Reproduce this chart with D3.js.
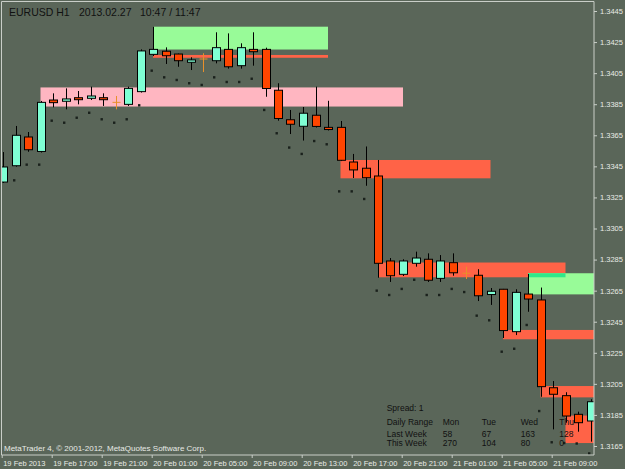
<!DOCTYPE html>
<html>
<head>
<meta charset="utf-8">
<script src="https://cdn.jsdelivr.net/npm/d3@7/dist/d3.min.js"></script>
<style>
  body { margin: 0; background: #5a6659; }
  svg { display: block; }
</style>
</head>
<body>
<div id="chart"></div>
<script>
// EURUSD H1, one bar per hour from 19 Feb 2013 13:00
var opens  = [1.33349, 1.33454, 1.33639, 1.33546, 1.33877, 1.33869, 1.33892, 1.33888, 1.33892, 1.33862,
              1.33849, 1.33931, 1.34171, 1.34191, 1.34173, 1.34120, 1.34141, 1.34130, 1.34203, 1.34098,
              1.34203, 1.34203, 1.33940, 1.33750, 1.33708, 1.33779, 1.33701, 1.33701, 1.33478, 1.33438,
              1.33388, 1.32841, 1.32755, 1.32826, 1.32852, 1.32729, 1.32830, 1.32762, 1.32749, 1.32625,
              1.32659, 1.32386, 1.32628, 1.32590, 1.32025, 1.31974, 1.31854, 1.31811];
var highs  = [1.33542, 1.33710, 1.33671, 1.33871, 1.33920, 1.33952, 1.33935, 1.33963, 1.33920, 1.33903,
              1.33963, 1.34203, 1.34349, 1.34216, 1.34176, 1.34152, 1.34178, 1.34313, 1.34306, 1.34242,
              1.34313, 1.34214, 1.33985, 1.33813, 1.33832, 1.33963, 1.33872, 1.33742, 1.33530, 1.33578,
              1.33491, 1.32860, 1.32852, 1.32901, 1.32890, 1.32879, 1.32890, 1.32804, 1.32788, 1.32667,
              1.32661, 1.32659, 1.32757, 1.32670, 1.32068, 1.31996, 1.31871, 1.31951];
var lows   = [1.33343, 1.33448, 1.33544, 1.33539, 1.33830, 1.33817, 1.33849, 1.33877, 1.33839, 1.33817,
              1.33839, 1.33925, 1.34160, 1.34109, 1.34091, 1.34070, 1.34057, 1.34113, 1.34079, 1.34079,
              1.34098, 1.33898, 1.33744, 1.33658, 1.33616, 1.33700, 1.33681, 1.33484, 1.33375, 1.33325,
              1.32733, 1.32706, 1.32744, 1.32804, 1.32706, 1.32706, 1.32746, 1.32725, 1.32583, 1.32558,
              1.32345, 1.32364, 1.32514, 1.31967, 1.31757, 1.31800, 1.31742, 1.31678];
var closes = [1.33446, 1.33650, 1.33557, 1.33862, 1.33860, 1.33884, 1.33879, 1.33903, 1.33879, 1.33862,
              1.33952, 1.34193, 1.34203, 1.34162, 1.34130, 1.34135, 1.34141, 1.34214, 1.34091, 1.34214,
              1.34188, 1.33951, 1.33758, 1.33721, 1.33792, 1.33707, 1.33687, 1.33489, 1.33427, 1.33377,
              1.32826, 1.32746, 1.32841, 1.32860, 1.32717, 1.32841, 1.32765, 1.32762, 1.32617, 1.32646,
              1.32393, 1.32639, 1.32596, 1.32032, 1.31983, 1.31843, 1.31800, 1.31935];
// indicator dots under the bars
var marks  = [null, 1.33360, 1.33461, 1.33461, 1.33744, 1.33731, 1.33763, 1.33795, 1.33753, 1.33731,
              1.33753, 1.33843, 1.34066, 1.34023, 1.34006, 1.33985, 1.33974, 1.34023, 1.33993, 1.33993,
              1.34014, 1.33813, 1.33663, 1.33571, 1.33530, 1.33613, 1.33592, 1.33289, 1.33289, 1.33240,
              1.32650, 1.32622, 1.32661, 1.32720, 1.32622, 1.32622, 1.32661, 1.32641, 1.32489, 1.32459,
              1.32257, 1.32276, 1.32429, 1.31875, 1.31674, 1.31669, 1.31666, 1.31602];

// zones (bar index from/to, null = runs to the right edge)
var zoneFrom   = [3, 12, 12, 27, 30, 42, 40, 43, 45];
var zoneTo     = [32, 26, 26, 39, 45, null, null, null, null];
var zoneTop    = [1.33958, 1.34349, 1.34167, 1.33491, 1.32831, 1.32762, 1.32397, 1.32036, 1.31846];
var zoneBottom = [1.33835, 1.34202, 1.34149, 1.33373, 1.32736, 1.32626, 1.32337, 1.31963, 1.31669];
var zoneColor  = ["#ffb6c1", "#98fb98", "#ff6347", "#ff6347", "#ff6347", "#98fb98", "#ff6347", "#ff6347", "#ff6347"];

var yTicks = [1.3165, 1.3185, 1.3205, 1.3225, 1.3245, 1.3265, 1.3285, 1.3305,
              1.3325, 1.3345, 1.3365, 1.3385, 1.3405, 1.3425, 1.3445];
var tickLabels = ["19 Feb 2013", "19 Feb 17:00", "19 Feb 21:00", "20 Feb 01:00", "20 Feb 05:00", "20 Feb 09:00",
                  "20 Feb 13:00", "20 Feb 17:00", "20 Feb 21:00", "21 Feb 01:00", "21 Feb 05:00", "21 Feb 09:00"];

var rangeDays = ["Mon", "Tue", "Wed", "Thu"];
var lastWeek = [58, 67, 163, 128];
var thisWeek = [270, 104, 80, 0];

var svgWidth = 625, svgHeight = 469;
var plotRight = 594, plotBottom = 455;

var t0 = new Date(2013, 1, 19, 13);
var times = d3.range(opens.length).map(i => d3.timeHour.offset(t0, i));
var tickTimes = times.filter((d, i) => i % 4 == 0);

var bars = times.map((t, i) => ({ t: t, o: opens[i], h: highs[i], l: lows[i], c: closes[i], m: marks[i] }));

var x = d3.scaleTime()
  .domain([times[0], times[times.length - 1]])
  .range([3, 590.5]);
var y = d3.scaleLinear()
  .domain([1.3165, 1.3445])
  .range([446, 11]);

var svg = d3.select("#chart").append("svg")
  .attr("width", svgWidth)
  .attr("height", svgHeight);

svg.append("rect").attr("width", svgWidth).attr("height", svgHeight).attr("fill", "#5a6659");

svg.append("clipPath").attr("id", "plot")
  .append("rect").attr("x", 1.5).attr("y", 1.5).attr("width", plotRight - 1.5).attr("height", plotBottom - 1.5);

var plot = svg.append("g").attr("clip-path", "url(#plot)");

// zones
var zones = zoneFrom.map((f, i) => ({
  x0: x(times[f]),
  x1: zoneTo[i] == null ? plotRight : x(times[zoneTo[i]]),
  y0: y(zoneTop[i]),
  y1: y(zoneBottom[i]),
  color: zoneColor[i]
}));
plot.selectAll(".zone")
  .data(zones)
  .enter().append("rect")
  .attr("x", d => d.x0)
  .attr("y", d => d.y0)
  .attr("width", d => d.x1 - d.x0)
  .attr("height", d => d.y1 - d.y0)
  .attr("fill", d => d.color);

// where a red and a green zone overlap MT4 mixes the colours
var overlaps = [];
zones.forEach(a => zones.forEach(b => {
  if (a.color == "#ff6347" && b.color == "#98fb98") {
    var ox0 = Math.max(a.x0, b.x0), ox1 = Math.min(a.x1, b.x1);
    var oy0 = Math.max(a.y0, b.y0), oy1 = Math.min(a.y1, b.y1);
    if (ox1 > ox0 && oy1 > oy0) overlaps.push({ x0: ox0, x1: ox1, y0: oy0, y1: oy1 });
  }
}));
plot.selectAll(".overlap")
  .data(overlaps)
  .enter().append("rect")
  .attr("x", d => d.x0)
  .attr("y", d => d.y0)
  .attr("width", d => d.x1 - d.x0)
  .attr("height", d => d.y1 - d.y0)
  .attr("fill", "#30e88a");

// dots
plot.selectAll(".mark")
  .data(bars.filter(d => d.m != null))
  .enter().append("rect")
  .attr("x", d => x(d.t) - 2.5)
  .attr("y", d => y(d.m) - 1.2)
  .attr("width", 2.4)
  .attr("height", 2.4)
  .attr("fill", "#1a211c");

var candles = bars.filter(d => d.o != d.c);
var dojis = bars.filter(d => d.o == d.c);

plot.selectAll(".wick")
  .data(candles)
  .enter().append("line")
  .attr("x1", d => Math.round(x(d.t)) + 0.5)
  .attr("x2", d => Math.round(x(d.t)) + 0.5)
  .attr("y1", d => y(d.h))
  .attr("y2", d => y(d.l))
  .attr("stroke", "#000")
  .attr("stroke-width", 1);

plot.selectAll(".body")
  .data(candles)
  .enter().append("rect")
  .attr("x", d => Math.round(x(d.t)) - 3.5)
  .attr("y", d => y(Math.max(d.o, d.c)))
  .attr("width", 8)
  .attr("height", d => Math.max(1, y(Math.min(d.o, d.c)) - y(Math.max(d.o, d.c))))
  .attr("fill", d => d.c > d.o ? "#7fffd4" : "#ff4500")
  .attr("stroke", "#000")
  .attr("stroke-width", 1);

var doji = plot.selectAll(".doji")
  .data(dojis)
  .enter().append("g");
doji.append("line")
  .attr("x1", d => Math.round(x(d.t)) + 0.5)
  .attr("x2", d => Math.round(x(d.t)) + 0.5)
  .attr("y1", d => y(d.h))
  .attr("y2", d => y(d.l))
  .attr("stroke", "#e8902a");
doji.append("line")
  .attr("x1", d => Math.round(x(d.t)) - 3.5)
  .attr("x2", d => Math.round(x(d.t)) + 4.5)
  .attr("y1", d => y(d.c))
  .attr("y2", d => y(d.c))
  .attr("stroke", "#e8902a");

// frame
svg.append("path")
  .attr("d", `M1.5,${plotBottom}V1.5H${plotRight}V${plotBottom}Z`)
  .attr("fill", "none")
  .attr("stroke", "#c9cec8")
  .attr("stroke-width", 1);

// axes
var rightAxis = d3.axisRight(y)
  .tickValues(yTicks)
  .tickFormat(d3.format(".4f"))
  .tickSize(3)
  .tickPadding(3);
var yAxisG = svg.append("g")
  .attr("transform", `translate(${plotRight}, 0)`)
  .call(rightAxis);

var bottomAxis = d3.axisBottom(x)
  .tickValues(tickTimes)
  .tickFormat((d, i) => tickLabels[i])
  .tickSize(3)
  .tickPadding(2.5);
var xAxisG = svg.append("g")
  .attr("transform", `translate(-1.3, ${plotBottom})`)
  .call(bottomAxis);
xAxisG.selectAll("text").attr("text-anchor", "start").attr("x", 1);

[yAxisG, xAxisG].forEach(g => {
  g.select(".domain").remove();
  g.selectAll("line").attr("stroke", "#c9cec8");
  g.selectAll("text")
    .attr("fill", "#e8ebe6")
    .style("font-family", "'Liberation Sans', Arial, sans-serif")
    .style("font-size", "7.5px");
});

// title
var title = svg.append("g")
  .style("font-family", "'Liberation Sans', Arial, sans-serif")
  .style("font-size", "10.5px")
  .attr("fill", "#111");
title.append("text").attr("x", 9).attr("y", 16).text("EURUSD H1");
title.append("text").attr("x", 79).attr("y", 16).text("2013.02.27");
title.append("text").attr("x", 140).attr("y", 16).text("10:47 / 11:47");

svg.append("text")
  .attr("x", 4).attr("y", 450.5)
  .attr("fill", "#e8ebe6")
  .style("font-family", "'Liberation Sans', Arial, sans-serif")
  .style("font-size", "8px")
  .text("MetaTrader 4, © 2001-2012, MetaQuotes Software Corp.");

// spread / daily range table
var table = svg.append("g")
  .style("font-family", "'Liberation Sans', Arial, sans-serif")
  .style("font-size", "8.5px")
  .attr("fill", "#111");
var colX = [442.7, 481.7, 520.7, 559.3];
table.append("text").attr("x", 386.7).attr("y", 410.5).text("Spread: 1");
table.append("text").attr("x", 386.7).attr("y", 425).text("Daily Range");
table.append("text").attr("x", 386.7).attr("y", 436.5).text("Last Week");
table.append("text").attr("x", 386.7).attr("y", 445.5).text("This Week");
rangeDays.forEach((d, i) => {
  table.append("text").attr("x", colX[i]).attr("y", 425).text(d);
  table.append("text").attr("x", colX[i]).attr("y", 436.5).text(lastWeek[i]);
  table.append("text").attr("x", colX[i]).attr("y", 445.5).text(thisWeek[i]);
});
</script>
</body>
</html>
